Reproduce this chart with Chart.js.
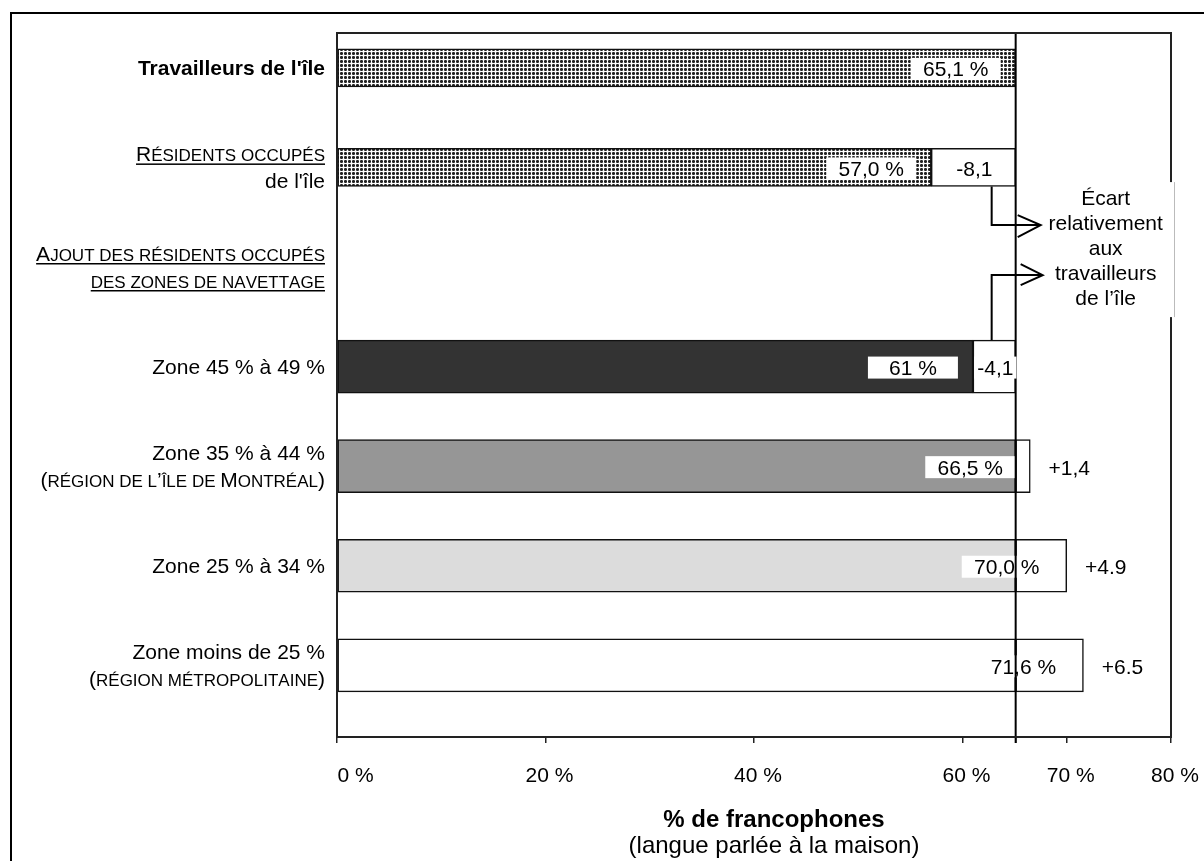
<!DOCTYPE html>
<html lang="fr">
<head>
<meta charset="utf-8">
<script src="https://cdn.jsdelivr.net/npm/chart.js@4.4.1/dist/chart.umd.min.js"></script>
<style>
  html, body { margin: 0; padding: 0; background: #fff; overflow: hidden; }
  #wrap { position: relative; width: 1204px; height: 861px; }
</style>
</head>
<body>
<div id="wrap"><canvas id="chart"></canvas></div>
<script>
// rows, top to bottom
const categories = [
  ["Travailleurs de l'île"],
  ['Résidents occupés', "de l'île"],
  ['Ajout des résidents occupés', 'des zones de navettage'],
  ['Zone 45 % à 49 %'],
  ['Zone 35 % à 44 %', '(région de l’île de Montréal)'],
  ['Zone 25 % à 34 %'],
  ['Zone moins de 25 %', '(région métropolitaine)']
];
const values = [65.1, 57.0, null, 61.0, 66.5, 70.0, 71.6];
const reference = 65.1; // travailleurs de l'île
const valueLabels = ['65,1 %', '57,0 %', '', '61 %', '66,5 %', '70,0 %', '71,6 %'];
const gapLabels = ['', '-8,1', '', '-4,1', '+1,4', '+4.9', '+6.5'];
const tickValues = [0, 20, 40, 60, 70, 80];
const noteLines = ['Écart', 'relativement', 'aux', 'travailleurs', 'de l’île'];
const axisTitle = '% de francophones';
const axisSubtitle = '(langue parlée à la maison)';

const FONT = '"Liberation Sans", Arial, sans-serif';
const boldLines = new Set(["Travailleurs de l'île"]);
const smallCaps = new Set(['Résidents occupés', 'Ajout des résidents occupés', 'des zones de navettage',
  '(région de l’île de Montréal)', '(région métropolitaine)']);
const underlined = new Set(['Résidents occupés', 'Ajout des résidents occupés', 'des zones de navettage']);

const canvas = document.getElementById('chart');
const ctx0 = canvas.getContext('2d');

// little dotted texture used by the two "île" bars
function makePattern() {
  const tile = document.createElement('canvas');
  tile.width = 4; tile.height = 4;
  const g = tile.getContext('2d');
  g.fillStyle = '#fff'; g.fillRect(0, 0, 4, 4);
  g.fillStyle = '#666';
  g.fillRect(0, 0, 3, 3);
  g.fillStyle = '#222';
  g.fillRect(1, 0, 1, 3);
  g.fillRect(0, 1, 3, 1);
  return ctx0.createPattern(tile, 'repeat');
}
const dots = makePattern();
const fills = [dots, dots, null, '#333333', '#969696', '#dcdcdc', '#ffffff'];

const topRows = [0, 1];
const zoneRows = [3, 4, 5, 6];

function baseSet(rows, thick) {
  const r = rows.filter(i => values[i] != null);
  return {
    data: r.map(i => ({x: [0, Math.min(values[i], reference)], y: i})),
    backgroundColor: r.map(i => fills[i]),
    borderColor: '#111', borderWidth: 1.5, borderSkipped: false,
    barThickness: thick, grouped: false
  };
}
function gapSet(rows, thick) {
  const r = rows.filter(i => values[i] != null && values[i] !== reference);
  return {
    data: r.map(i => ({x: [Math.min(values[i], reference), Math.max(values[i], reference)], y: i})),
    backgroundColor: '#ffffff',
    borderColor: '#111', borderWidth: 1.5, borderSkipped: false,
    barThickness: thick, grouped: false
  };
}

function drawLabelLine(ctx, text, xRight, yc) {
  const bold = boldLines.has(text);
  let segs;
  if (smallCaps.has(text)) {
    segs = [...text].map(ch => {
      const low = ch !== ch.toUpperCase() || ch === ' ';
      return {t: low ? ch.toUpperCase() : ch, size: low ? 17 : 21};
    });
  } else {
    segs = [{t: text, size: 21}];
  }
  let total = 0;
  segs.forEach(s => {
    ctx.font = (bold ? 'bold ' : '') + s.size + 'px ' + FONT;
    s.w = ctx.measureText(s.t).width;
    total += s.w;
  });
  const base = yc + 7.5;
  let x = xRight - total;
  ctx.textAlign = 'left';
  ctx.textBaseline = 'alphabetic';
  ctx.fillStyle = '#000';
  segs.forEach(s => {
    ctx.font = (bold ? 'bold ' : '') + s.size + 'px ' + FONT;
    ctx.fillText(s.t, x, base);
    x += s.w;
  });
  if (underlined.has(text)) ctx.fillRect(xRight - total, base + 2, total, 1.5);
}

const decor = {
  id: 'decor',
  beforeDraw(chart) {
    const c = chart.ctx;
    c.save();
    c.fillStyle = '#fff';
    c.fillRect(0, 0, chart.width, chart.height);
    c.restore();
  },
  afterDatasetsDraw(chart) {
    const c = chart.ctx;
    const xs = chart.scales.x, ys = chart.scales.y;
    const a = chart.chartArea;
    const refX = xs.getPixelForValue(reference);
    c.save();

    // white boxes behind the value labels
    values.forEach((v, i) => {
      if (v == null) return;
      const cx = xs.getPixelForValue(v) - 60, cy = ys.getPixelForValue(i) + 1;
      c.fillStyle = '#fff';
      c.fillRect(cx - 45, cy - 11, 90, 22);
    });

    // reference line (travailleurs de l'île)
    c.strokeStyle = '#000';
    c.lineWidth = 2;
    c.beginPath();
    c.moveTo(refX, a.top);
    c.lineTo(refX, a.bottom + 6);
    c.stroke();

    // plot frame
    c.strokeStyle = '#222';
    c.lineWidth = 2;
    c.strokeRect(a.left, a.top, a.right - a.left, a.bottom - a.top);

    // value and gap labels
    c.font = '21px ' + FONT;
    c.textAlign = 'center';
    c.textBaseline = 'alphabetic';
    values.forEach((v, i) => {
      if (v == null) return;
      const cy = ys.getPixelForValue(i) + 1;
      c.fillStyle = '#000';
      c.fillText(valueLabels[i], xs.getPixelForValue(v) - 60, cy + 7.5);
      if (!gapLabels[i]) return;
      if (v < reference) {
        const gx = (xs.getPixelForValue(v) + refX) / 2 + 1;
        const w = c.measureText(gapLabels[i]).width + 6;
        c.fillStyle = '#fff';
        c.fillRect(gx - w / 2, cy - 11, w, 22);
        c.fillStyle = '#000';
        c.fillText(gapLabels[i], gx, cy + 7.5);
      } else {
        c.fillText(gapLabels[i], xs.getPixelForValue(v) + 39, cy + 7.5);
      }
    });

    // note on the right, with its two connectors
    const ya = ys.getPixelForValue(1), yb = ys.getPixelForValue(3);
    const yc = ya + 0.4 * (yb - ya);
    c.fillStyle = '#fff';
    c.fillRect(refX + 30, yc - 65, a.right + 4 - (refX + 30), 135);
    c.strokeStyle = '#bbb';
    c.lineWidth = 1;
    c.beginPath();
    c.moveTo(a.right + 3.5, yc - 65);
    c.lineTo(a.right + 3.5, yc + 70);
    c.stroke();
    c.fillStyle = '#000';
    c.font = '21px ' + FONT;
    c.textAlign = 'center';
    noteLines.forEach((t, k) => c.fillText(t, refX + 90, yc + (k - 2) * 25 + 7.5));

    c.strokeStyle = '#000';
    c.lineWidth = 2;
    const vx = refX - 24;
    const y1 = yc - 22, y2 = yc + 28;
    c.beginPath();
    c.moveTo(vx, ya + 19); c.lineTo(vx, y1); c.lineTo(refX + 25, y1);
    c.moveTo(refX + 2, y1 - 10); c.lineTo(refX + 25, y1); c.lineTo(refX + 2, y1 + 12);
    c.moveTo(vx, yb - 26.5); c.lineTo(vx, y2); c.lineTo(refX + 27, y2);
    c.moveTo(refX + 5, y2 - 11); c.lineTo(refX + 27, y2); c.lineTo(refX + 5, y2 + 10);
    c.stroke();

    // row labels
    categories.forEach((lines, i) => {
      const cy = ys.getPixelForValue(i);
      lines.forEach((t, k) => drawLabelLine(c, t, a.left - 12, cy + (k - (lines.length - 1) / 2) * 27));
    });

    // axis title
    c.fillStyle = '#000';
    c.textAlign = 'center';
    c.font = 'bold 24px ' + FONT;
    c.fillText(axisTitle, 774, 827);
    c.font = '24px ' + FONT;
    c.fillText(axisSubtitle, 774, 853);
    c.restore();
  },
  afterDraw(chart) {
    const c = chart.ctx;
    c.save();
    c.strokeStyle = '#000';
    c.lineWidth = 2;
    c.strokeRect(11, 13, chart.width + 20, chart.height + 20);
    c.restore();
  }
};

new Chart(canvas, {
  type: 'bar',
  data: {
    datasets: [
      baseSet(topRows, 38), gapSet(topRows, 38),
      baseSet(zoneRows, 53), gapSet(zoneRows, 53)
    ]
  },
  options: {
    indexAxis: 'y',
    responsive: true,
    maintainAspectRatio: false,
    animation: false,
    events: [],
    layout: {padding: {left: 337, right: 33, top: 33, bottom: 0}},
    plugins: {legend: {display: false}, tooltip: {enabled: false}},
    scales: {
      x: {
        type: 'linear', min: 0, max: 80,
        afterBuildTicks: s => { s.ticks = tickValues.concat([reference]).sort((p, q) => p - q).map(v => ({value: v})); },
        afterFit: s => { s.height = 124; s.paddingLeft = 0; s.paddingRight = 0; },
        ticks: {
          autoSkip: false, maxRotation: 0, padding: 21, labelOffset: 4,
          color: '#000', font: {family: FONT, size: 21},
          // the first label sits a little clear of the frame
          callback: v => (v === reference ? '' : (v === 0 ? '\u2007\u2007 ' : '') + v + ' %')
        },
        grid: {drawOnChartArea: false, drawTicks: true, tickLength: 6, color: '#222', lineWidth: 1.5},
        border: {display: false}
      },
      y: {
        type: 'linear', display: false, reverse: true, offset: false,
        grid: {offset: false}, min: -0.35, max: 6.72
      }
    }
  },
  plugins: [decor]
});
</script>
</body>
</html>
